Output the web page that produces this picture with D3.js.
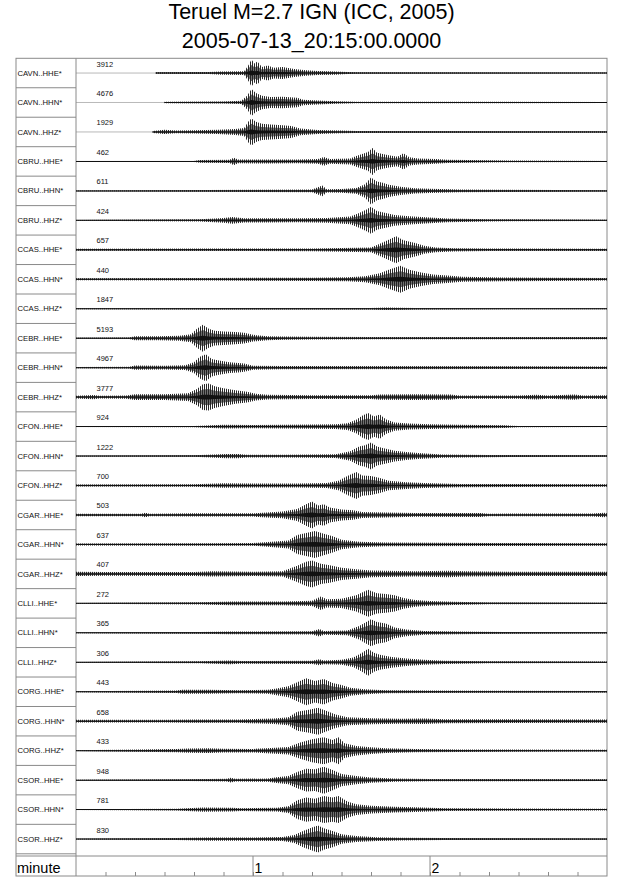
<!DOCTYPE html>
<html><head><meta charset="utf-8">
<script src="https://cdn.jsdelivr.net/npm/d3@7"></script>
<style>body{margin:0;background:#fff}svg{display:block}</style>
</head><body><svg id="c" width="640" height="878"></svg>
<script>
const titleLines = ["Teruel M=2.7 IGN (ICC, 2005)", "2005-07-13_20:15:00.0000"];
const channels = ["CAVN..HHE*","CAVN..HHN*","CAVN..HHZ*","CBRU..HHE*","CBRU..HHN*","CBRU..HHZ*",
  "CCAS..HHE*","CCAS..HHN*","CCAS..HHZ*","CEBR..HHE*","CEBR..HHN*","CEBR..HHZ*",
  "CFON..HHE*","CFON..HHN*","CFON..HHZ*","CGAR..HHE*","CGAR..HHN*","CGAR..HHZ*",
  "CLLI..HHE*","CLLI..HHN*","CLLI..HHZ*","CORG..HHE*","CORG..HHN*","CORG..HHZ*",
  "CSOR..HHE*","CSOR..HHN*","CSOR..HHZ*"];
const maxAmps = [3912,4676,1929,462,611,424,657,440,1847,5193,4967,3777,924,1222,700,503,637,407,272,365,306,443,658,433,948,781,830];
// envelope: [seconds, relative amplitude % of trace max]
const envelopes = [
[[27,6],[45,8],[49,12],[57,14],[58.5,60],[59.5,100],[60.5,70],[61.5,85],[63,45],[65,55],[67,40],[70,45],[74,30],[78,20],[82,15],[88,12],[92,8],[95,5],[180,4]],
[[30,6],[50,8],[56,12],[58,50],[59.5,100],[61,70],[63,50],[66,40],[70,42],[75,35],[77,20],[82,14],[88,10],[95,6],[180,4]],
[[26,8],[30,16],[34,10],[40,12],[48,16],[54,22],[57,30],[58.5,80],[59.5,100],[61,75],[63,60],[66,55],[70,50],[73,45],[76,25],[82,15],[90,10],[95,7],[180,5]],
[[0,3],[40,4],[42,10],[52,12],[53.5,28],[55,14],[65,15],[75,14],[82,18],[84,32],[86,18],[93,22],[95,40],[97,55],[99,70],[100.5,100],[102,65],[104,55],[106,45],[109,35],[111,60],[113,30],[116,22],[122,18],[126,12],[140,8],[150,6],[180,4]],
[[0,3],[44,6],[60,8],[80,10],[83.5,40],[85,12],[90,14],[95,22],[98,50],[100,100],[102,70],[104,60],[106,45],[110,30],[115,20],[120,15],[130,10],[145,8],[180,5]],
[[0,3],[42,8],[50,18],[53,25],[57,16],[65,16],[75,15],[85,18],[93,28],[96,55],[98.5,80],[100,100],[102,70],[105,55],[108,40],[113,30],[120,22],[126,14],[140,8],[180,4]],
[[0,7],[45,9],[80,10],[90,14],[100,18],[103,45],[106,75],[108.5,100],[111,70],[115,50],[118,30],[122,18],[128,12],[140,9],[180,8]],
[[0,7],[45,10],[80,12],[92,15],[98,22],[103,45],[106,70],[110,100],[113,70],[117,50],[121,35],[126,28],[131,18],[145,14],[160,12],[180,10]],
[[0,4],[45,5],[100,6],[105,10],[110,8],[115,5],[180,4]],
[[0,4],[18,6],[20,15],[28,15],[35,18],[39,30],[41,70],[43,100],[45,70],[47,55],[50,50],[54,45],[57,40],[60,25],[65,15],[70,12],[80,10],[100,8],[180,8]],
[[0,4],[18,6],[20,16],[30,14],[37,18],[40,40],[42,80],[44,100],[46,65],[48,55],[52,40],[55,35],[57,30],[60,15],[70,12],[180,9]],
[[0,10],[6,15],[8,10],[17,12],[20,22],[30,22],[38,28],[41,60],[43,95],[45,100],[47,80],[50,65],[54,50],[58,40],[61,25],[65,18],[80,14],[100,13],[103,20],[115,22],[127,20],[130,12],[150,12],[156,18],[160,12],[169,20],[172,12],[180,14]],
[[0,3],[40,5],[50,14],[60,12],[70,14],[80,16],[88,18],[92,25],[95,50],[97,80],[99,100],[101,75],[103,90],[105,55],[108,30],[113,22],[120,18],[130,14],[145,10],[150,5],[180,3]],
[[0,3],[40,6],[51,16],[55,16],[58,10],[70,10],[80,12],[88,14],[93,35],[96,70],[98,80],[100,100],[102,70],[104,60],[108,40],[112,30],[116,22],[124,12],[140,8],[180,6]],
[[0,8],[40,10],[50,16],[60,14],[75,14],[85,18],[89,35],[92,70],[95,100],[97,75],[100,70],[103,55],[106,35],[112,25],[118,18],[130,12],[180,9]],
[[0,9],[22,10],[23.5,16],[25,9],[40,12],[60,12],[66,20],[70,25],[75,45],[78,80],[80,100],[82,70],[84,80],[86,55],[90,40],[94,35],[97,22],[105,18],[115,14],[137,15],[140,10],[175,11],[179,16],[180,12]],
[[0,7],[45,9],[60,10],[65,18],[72,30],[75,70],[78,85],[81,100],[84,80],[87,60],[90,35],[96,20],[105,14],[140,11],[180,9]],
[[0,16],[10,14],[40,15],[46,20],[60,16],[70,20],[75,60],[78,90],[80,100],[83,75],[86,65],[90,45],[95,35],[100,25],[115,20],[126,24],[132,20],[150,16],[180,16]],
[[0,3],[42,8],[53,14],[70,14],[80,20],[83,50],[85,30],[90,35],[95,60],[99,100],[102,75],[105,70],[108,60],[111,40],[115,25],[120,18],[128,12],[140,7],[180,5]],
[[0,3],[42,7],[52,10],[80,12],[82.5,28],[84,14],[92,18],[96,50],[98,75],[100,100],[102,80],[105,70],[108,40],[112,25],[118,14],[130,10],[145,7],[180,5]],
[[0,3],[42,8],[52,14],[56,10],[80,12],[82.5,22],[84,14],[90,18],[94,35],[97,70],[99,100],[101,70],[103,55],[107,40],[112,28],[118,18],[125,12],[140,8],[180,5]],
[[0,3],[34,10],[36,14],[45,14],[55,12],[65,15],[68,25],[72,40],[75,70],[78,100],[81,80],[84,95],[87,65],[90,50],[93,30],[98,18],[105,12],[120,9],[180,6]],
[[0,10],[30,10],[40,12],[55,12],[67,20],[72,30],[75,70],[79,85],[82,100],[85,75],[88,50],[92,30],[100,22],[110,18],[118,20],[125,15],[180,12]],
[[0,3],[34,12],[38,16],[45,18],[50,14],[60,13],[66,20],[72,28],[76,60],[80,85],[84,100],[87,80],[89,100],[91,55],[95,35],[100,25],[105,18],[115,12],[130,9],[180,6]],
[[0,3],[38,7],[51,10],[52.5,18],[54,10],[65,12],[68,22],[72,30],[75,60],[78,85],[81,80],[84,100],[87,75],[90,45],[95,30],[100,20],[108,12],[120,9],[180,6]],
[[0,3],[34,7],[43,15],[53,14],[56,10],[68,14],[72,25],[75,70],[78,90],[81,80],[84,100],[87,90],[89,100],[92,60],[95,40],[100,28],[108,22],[115,18],[125,10],[180,6]],
[[0,3],[34,7],[45,12],[60,12],[70,15],[74,30],[77,60],[80,85],[82,100],[84,80],[87,60],[90,35],[95,22],[102,14],[110,10],[125,7],[180,5]]
];
const minuteTicks = [1, 2];
const minuteTickLabels = ["1", "2"];
const axisTitle = "minute";

const svg = d3.select("#c");
const L = 16, LC = 76, R = 607, T = 58.3, RB = 853.8, MT = 856, B = 876;
const frame = "#8a8a8a";
const font = "'Liberation Sans', Arial, Helvetica, sans-serif";

const defs = svg.append("defs");
const pat = defs.append("pattern").attr("id", "hatch").attr("patternUnits", "userSpaceOnUse")
  .attr("width", 2).attr("height", 4);
pat.append("rect").attr("x", 0).attr("y", 0).attr("width", 1).attr("height", 4).attr("fill", "#111");

const x = d3.scaleLinear().domain([0, 180]).range([LC, R]);
const row = d3.scaleBand().domain(channels).range([T, RB]);
const amp = d3.scaleLinear().domain([0, 100]).range([0, 13.5]);

svg.selectAll("text.title").data(titleLines).join("text")
  .attr("x", (L + R) / 2).attr("y", (d, i) => 18.5 + i * 29.5)
  .attr("text-anchor", "middle").attr("font-family", font).attr("font-size", 21.5)
  .attr("fill", "#000").text(d => d);

svg.append("rect").attr("x", L).attr("y", T).attr("width", R - L).attr("height", B - T)
  .attr("fill", "none").attr("stroke", frame).attr("stroke-width", 1);
svg.append("line").attr("x1", LC).attr("x2", LC).attr("y1", T).attr("y2", B).attr("stroke", frame);
svg.append("line").attr("x1", L).attr("x2", R).attr("y1", MT).attr("y2", MT).attr("stroke", frame);
svg.selectAll("line.sep").data(channels).join("line")
  .attr("x1", L).attr("x2", LC)
  .attr("y1", d => row(d) + row.bandwidth()).attr("y2", d => row(d) + row.bandwidth())
  .attr("stroke", frame);

const g = svg.selectAll("g.tr").data(channels).join("g").attr("class", "tr")
  .attr("transform", d => `translate(0,${row(d) + row.bandwidth() / 2})`);

g.append("text").attr("x", 17.5).attr("y", 2.6)
  .attr("font-family", font).attr("font-size", 7.7).attr("fill", "#111").text(d => d);
g.append("text").attr("x", 96.5).attr("y", -6.5)
  .attr("font-family", font).attr("font-size", 7.5).attr("fill", "#111").text((d, i) => maxAmps[i]);
g.append("line").attr("x1", LC).attr("x2", R).attr("y1", 0).attr("y2", 0)
  .attr("stroke", "#8a8a8a").attr("stroke-width", 0.6);

const outer = d3.area().x(d => x(d[0])).y0(d => amp(d[1])).y1(d => -amp(d[1]));
const inner = d3.area().x(d => x(d[0])).y0(d => amp(d[1]) * 0.6).y1(d => -amp(d[1]) * 0.6);
const core = d3.area().x(d => x(d[0])).y0(d => Math.max(0.5, amp(d[1]) * 0.18)).y1(d => -Math.max(0.5, amp(d[1]) * 0.18));
g.append("path").attr("d", (d, i) => outer(envelopes[i])).attr("fill", "url(#hatch)").attr("fill-opacity", 0.9);
g.append("path").attr("d", (d, i) => inner(envelopes[i])).attr("fill", "#222").attr("fill-opacity", 0.65);
g.append("path").attr("d", (d, i) => core(envelopes[i])).attr("fill", "#111");

const axis = d3.axisTop(x).tickValues(d3.range(10, 180, 10)).tickSize(4).tickFormat("");
const ag = svg.append("g").attr("transform", `translate(0,${B})`).call(axis);
ag.select(".domain").remove();
ag.selectAll(".tick line").attr("stroke", frame);

svg.selectAll("line.maj").data(minuteTicks).join("line")
  .attr("x1", d => x(d * 60)).attr("x2", d => x(d * 60)).attr("y1", MT).attr("y2", B)
  .attr("stroke", frame);
svg.selectAll("text.maj").data(minuteTicks).join("text")
  .attr("x", d => x(d * 60) + 1.5).attr("y", 873)
  .attr("font-family", font).attr("font-size", 14).attr("fill", "#000")
  .text((d, i) => minuteTickLabels[i]);
svg.append("text").attr("x", 17).attr("y", 873).attr("font-family", font).attr("font-size", 14.5)
  .attr("fill", "#000").text(axisTitle);
</script>
</body></html>
